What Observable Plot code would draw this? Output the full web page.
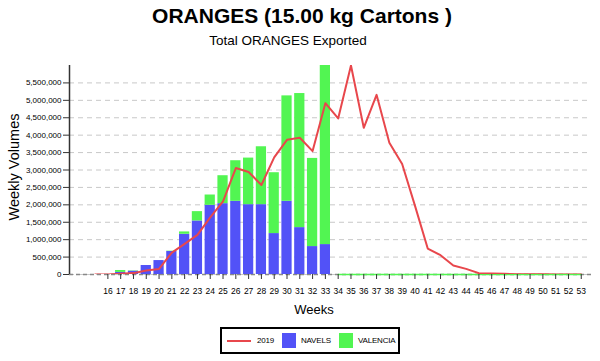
<!DOCTYPE html>
<html><head><meta charset="utf-8">
<script src="https://cdn.jsdelivr.net/npm/d3@7"></script>
<script src="https://cdn.jsdelivr.net/npm/@observablehq/plot@0.6"></script>
<style>
body{margin:0;background:#fff;font-family:"Liberation Sans",Arial,sans-serif;}
#wrap{position:relative;width:600px;height:361px;overflow:hidden;background:#fff;}
#chart{position:absolute;left:0;top:0;}
#title{position:absolute;top:4px;left:0;width:604px;text-align:center;font-weight:bold;font-size:21px;color:#000;}
#subtitle{position:absolute;top:33px;left:0;width:576px;text-align:center;font-size:13.5px;color:#000;}
#ylab{position:absolute;left:14px;top:167px;transform:translate(-50%,-50%) rotate(-90deg);font-size:14.5px;white-space:nowrap;color:#000;}
#xlab{position:absolute;top:302px;left:0;width:628px;text-align:center;font-size:13px;color:#000;}
#legend{position:absolute;left:220px;top:327px;width:176px;height:23px;border:2px solid #000;box-sizing:content-box;font-size:8px;letter-spacing:-0.2px;}
.li{position:absolute;top:0;height:23px;display:flex;align-items:center;white-space:nowrap;}
.sw{display:inline-block;width:14px;height:15px;margin-right:5px;}
.ln{display:inline-block;width:24px;height:2px;margin-right:6px;}
</style></head>
<body>
<div id="wrap">
  <div id="chart"></div>
  <div id="title">ORANGES (15.00 kg Cartons )</div>
  <div id="subtitle">Total ORANGES Exported</div>
  <div id="ylab">Weekly Volumes</div>
  <div id="xlab">Weeks</div>
  <div id="legend"></div>
</div>
<script>
// Weeks for the 2019 line
const lineWeeks = [15,16,17,18,19,20,21,22,23,24,25,26,27,28,29,30,31,32,33,34,35,36,37,38,39,40,41,42,43,44,45,46,47,48,49,50,51,52,53];
const line2019 = [0,0,20000,40000,115000,160000,630000,880000,1136000,1642000,2100000,3056000,2941000,2569000,3361000,3867000,3925000,3543000,4918000,4479000,6000000,4211000,5157000,3781000,3170000,1977000,745000,554000,258000,162000,38000,29000,19000,10000,8000,5000,3000,2000,1000];
// Weeks for the bars
const barWeeks = [16,17,18,19,20,21,22,23,24,25,26,27,28,29,30,31,32,33];
const navels   = [0,60000,95000,258000,400000,660000,1155000,1537000,1986000,2034000,2101000,2005000,2005000,1175000,2101000,1346000,802000,859000];
const valencia = [0,55000,10000,0,0,10000,67000,268000,296000,802000,1165000,1337000,1662000,1747000,3027000,3849000,2531000,5141000];
// Valencia weeks with zero volume (drawn at the baseline)
const valZeroWeeks = [34,35,36,37,38,39,40,41,42,43,44,45,46,47,48,49,50,51,52,53];
const xTicks = [16,17,18,19,20,21,22,23,24,25,26,27,28,29,30,31,32,33,34,35,36,37,38,39,40,41,42,43,44,45,46,47,48,49,50,51,52,53];
const yTicks = [0,500000,1000000,1500000,2000000,2500000,3000000,3500000,4000000,4500000,5000000,5500000];
const xDomain = [13, 53.8];
const yDomain = [0, 6000000];
const seriesNames = ["2019","NAVELS","VALENCIA"];
const colors = {"2019":"#e8474c", "NAVELS":"#5252f7", "VALENCIA":"#52f552"};

const bars = [];
barWeeks.forEach((w,i)=>{
  bars.push({week:w, series:"NAVELS", value:navels[i], order:0});
  bars.push({week:w, series:"VALENCIA", value:valencia[i], order:1});
});
const lineData = lineWeeks.map((w,i)=>({week:w, value:line2019[i]}));
const zeroData = valZeroWeeks.map(w=>({week:w, value:0}));

const fmt = d3.format(",");
const chart = Plot.plot({
  width: 600, height: 361,
  marginLeft: 69, marginRight: 9, marginTop: 65, marginBottom: 87,
  style: {fontFamily: "'Liberation Sans', Arial, sans-serif", background: "#fff", color: "#000"},
  x: {domain: xDomain, axis: null},
  y: {domain: yDomain, axis: null},
  marks: [
    Plot.ruleY(yTicks, {stroke: "#c8c8c8", strokeDasharray: "5,4", strokeWidth: 1}),
    Plot.ruleY([0], {stroke: "#888", strokeDasharray: "4,3", strokeWidth: 1.5}),
    Plot.rectY(bars, {
      x1: d => d.week - 0.4, x2: d => d.week + 0.4,
      y: "value", fill: d => colors[d.series], order: "order", clip: true
    }),
    Plot.lineY(zeroData, {x: "week", y: "value", stroke: colors["VALENCIA"], strokeWidth: 1.5}),
    Plot.lineY(lineData, {x: "week", y: "value", stroke: colors["2019"], strokeWidth: 2, clip: true}),
    Plot.ruleX([xDomain[0]], {y1: yDomain[0], y2: yDomain[1], stroke: "#333", strokeWidth: 1.5}),
    Plot.axisY(yTicks, {tickSize: 6, tickPadding: 2, fontSize: 8, tickFormat: fmt, stroke: "#333", label: null}),
    Plot.axisX(xTicks, {tickSize: 5, tickPadding: 8, fontSize: 8.5, tickFormat: d => String(d), stroke: "#333", label: null})
  ]
});
document.getElementById("chart").appendChild(chart);

// Legend
const lg = document.getElementById("legend");
const items = [
  {name: seriesNames[0], kind: "line", left: 5},
  {name: seriesNames[1], kind: "box", left: 60},
  {name: seriesNames[2], kind: "box", left: 117}
];
items.forEach(it=>{
  const d = document.createElement("div");
  d.className = "li"; d.style.left = it.left + "px";
  const s = document.createElement("span");
  s.className = it.kind === "line" ? "ln" : "sw";
  s.style.background = colors[it.name];
  d.appendChild(s);
  const t = document.createElement("span");
  t.textContent = it.name;
  d.appendChild(t);
  lg.appendChild(d);
});
</script>
</body></html>
